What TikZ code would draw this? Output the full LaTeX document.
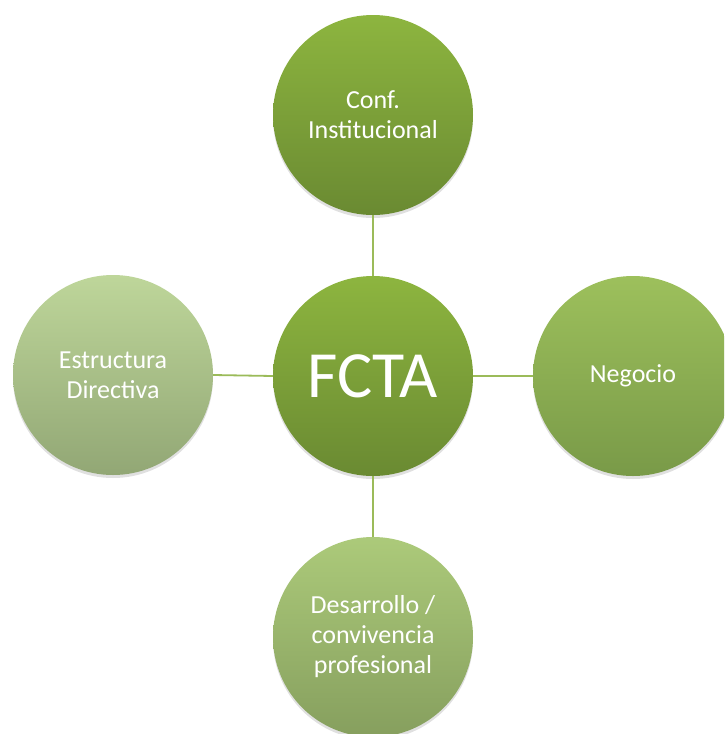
\documentclass[tikz,border=0pt]{standalone}
\usepackage{fontspec}
\setmainfont{Carlito}
\definecolor{linegreen}{HTML}{9BBB59}
\begin{document}
\begin{tikzpicture}[x=1pt,y=-1pt,
  bubble/.style={circle, minimum size=200pt, inner sep=0pt, text=white, align=center,
    font=\fontsize{26}{30}\selectfont,
    preaction={fill=black, fill opacity=0.12, transform canvas={yshift=-3pt}}},
  link/.style={draw=linegreen, line width=1.8pt}]
\useasboundingbox (0,0) rectangle (724,734);
\clip (0,0) rectangle (724,734);
\fill[white] (0,0) rectangle (724,734);
\node[bubble, top color={rgb,255:red,141;green,181;blue,63}, bottom color={rgb,255:red,106;green,138;blue,50}] (top) at (373,115) {Conf.\\Institucional};
\node[bubble, top color={rgb,255:red,157;green,192;blue,92}, bottom color={rgb,255:red,121;green,154;blue,72}] (right) at (633,376) {Negocio};
\node[bubble, top color={rgb,255:red,190;green,214;blue,154}, bottom color={rgb,255:red,146;green,167;blue,117}] (left) at (113,375) {Estructura\\Directiva};
\node[bubble, top color={rgb,255:red,172;green,202;blue,122}, bottom color={rgb,255:red,134;green,159;blue,94}] (bottom) at (373,637) {Desarrollo /\\convivencia\\profesional};
\node[bubble, font=\fontsize{66}{70}\selectfont, top color={rgb,255:red,141;green,181;blue,63}, bottom color={rgb,255:red,106;green,138;blue,50}] (center) at (373,376) {FCTA};
\draw[link] (top.south) -- (center.north);
\draw[link] (center.east) -- (right.west);
\draw[link] (center.west) -- (left.east);
\draw[link] (center.south) -- (bottom.north);
\end{tikzpicture}
\end{document}
